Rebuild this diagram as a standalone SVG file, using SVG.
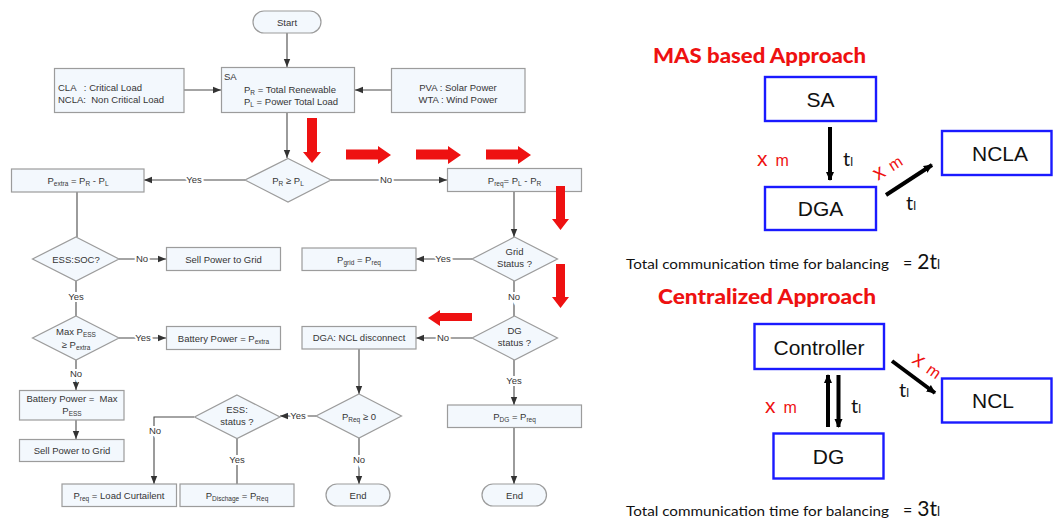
<svg xmlns="http://www.w3.org/2000/svg" width="1053" height="525" viewBox="0 0 1053 525">
  <style>
    .nd { fill: #f3f8fd; stroke: #9c9c9c; stroke-width: 1.2; }
    .t { font-family: "Liberation Sans", Arial, sans-serif; font-size: 9.5px; fill: #353535; }
    .c { text-anchor: middle; }
    .sub { font-size: 6.5px; }
    .pre { white-space: pre; }
    .ln { fill: none; stroke: #4a4a4a; stroke-width: 1.1; }
    .lbl { font-family: "Liberation Sans", Arial, sans-serif; font-size: 9.5px; fill: #353535; text-anchor: middle; paint-order: stroke; stroke: #ffffff; stroke-width: 4px; }
    .red { fill: #ee1111; }
    .ag { fill: #ffffff; stroke: #1a1aff; stroke-width: 2.4; }
    .at { font-family: "Liberation Sans", Arial, sans-serif; font-size: 21px; fill: #111111; text-anchor: middle; }
    .ttl { font-family: Lato, "Open Sans", sans-serif; font-weight: 900; font-size: 20px; fill: #ee1111; }
    .tot { font-family: Lato, "Open Sans", sans-serif; font-size: 14px; fill: #111111; }
    .xm { font-family: "Liberation Sans", Arial, sans-serif; fill: #ee1111; }
    .tl { font-family: Lato, "Open Sans", sans-serif; font-size: 20px; fill: #111111; }
    .thick { fill: none; stroke: #000000; stroke-width: 4; }
  </style>
  <defs>
    <marker id="ah" viewBox="0 0 8 8" refX="8" refY="4" markerWidth="8" markerHeight="8" markerUnits="userSpaceOnUse" orient="auto">
      <path d="M0,0.8 L8,4 L0,7.2 Z" fill="#333333"/>
    </marker>
    <marker id="bh" viewBox="0 0 10 10" refX="9" refY="5" markerWidth="9" markerHeight="9" markerUnits="userSpaceOnUse" orient="auto">
      <path d="M0,0.5 L10,5 L0,9.5 Z" fill="#000000"/>
    </marker>
  </defs>

  <rect x="0" y="0" width="1053" height="525" fill="#ffffff"/>

  <!-- flowchart connectors -->
  <g id="connectors">
    <path class="ln" d="M287,33 V67" marker-end="url(#ah)"/>
    <path class="ln" d="M184,90 H221" marker-end="url(#ah)"/>
    <path class="ln" d="M391,90 H355" marker-end="url(#ah)"/>
    <path class="ln" d="M287,113 V158" marker-end="url(#ah)"/>
    <path class="ln" d="M245,180 H144" marker-end="url(#ah)"/>
    <path class="ln" d="M331,180 H447" marker-end="url(#ah)"/>
    <path class="ln" d="M77,192 V237"/>
    <path class="ln" d="M119,259 H166" marker-end="url(#ah)"/>
    <path class="ln" d="M76,281 V316"/>
    <path class="ln" d="M119,338 H166" marker-end="url(#ah)"/>
    <path class="ln" d="M76,360 V390" marker-end="url(#ah)"/>
    <path class="ln" d="M76,420 V439" marker-end="url(#ah)"/>
    <path class="ln" d="M514,192 V237" marker-end="url(#ah)"/>
    <path class="ln" d="M472,259 H416" marker-end="url(#ah)"/>
    <path class="ln" d="M514,281 V316"/>
    <path class="ln" d="M472,338 H416" marker-end="url(#ah)"/>
    <path class="ln" d="M514,360 V405" marker-end="url(#ah)"/>
    <path class="ln" d="M514,427 V484" marker-end="url(#ah)"/>
    <path class="ln" d="M359,349 V394" marker-end="url(#ah)"/>
    <path class="ln" d="M316,416 H280" marker-end="url(#ah)"/>
    <path class="ln" d="M359,438 V484" marker-end="url(#ah)"/>
    <path class="ln" d="M194,417 H154 V484" marker-end="url(#ah)"/>
    <path class="ln" d="M237,438 V484"/>

    <text class="lbl" x="194" y="183">Yes</text>
    <text class="lbl" x="386" y="183">No</text>
    <text class="lbl" x="142" y="262">No</text>
    <text class="lbl" x="76" y="300">Yes</text>
    <text class="lbl" x="143" y="341">Yes</text>
    <text class="lbl" x="76" y="377">No</text>
    <text class="lbl" x="443" y="262">Yes</text>
    <text class="lbl" x="514" y="300">No</text>
    <text class="lbl" x="443" y="341">No</text>
    <text class="lbl" x="514" y="384">Yes</text>
    <text class="lbl" x="298" y="419">Yes</text>
    <text class="lbl" x="359" y="463">No</text>
    <text class="lbl" x="155" y="434">No</text>
    <text class="lbl" x="237" y="463">Yes</text>
  </g>

  <!-- flowchart nodes -->
  <g id="start">
    <rect class="nd" x="253" y="11" width="68" height="22" rx="11"/>
    <text class="t c" x="287" y="25.5">Start</text>
  </g>
  <g id="sa">
    <rect class="nd" x="221.5" y="67.5" width="133" height="45"/>
    <text class="t" x="224" y="80">SA</text>
    <text class="t" x="244" y="93">P<tspan class="sub" dy="2">R</tspan><tspan dy="-2"> = Total Renewable</tspan></text>
    <text class="t" x="244" y="105">P<tspan class="sub" dy="2">L</tspan><tspan dy="-2"> = Power Total Load</tspan></text>
  </g>
  <g id="cla">
    <rect class="nd" x="54.5" y="68.5" width="129.5" height="44"/>
    <text class="t pre" x="58" y="91">CLA   : Critical Load</text>
    <text class="t pre" x="58" y="103">NCLA:  Non Critical Load</text>
  </g>
  <g id="pva">
    <rect class="nd" x="391.5" y="68.5" width="133.5" height="44"/>
    <text class="t c" x="458" y="91">PVA : Solar Power</text>
    <text class="t c" x="458" y="103">WTA : Wind Power</text>
  </g>
  <g id="balance">
    <polygon class="nd" points="288,158.5 331,180 288,202 245,180"/>
    <text class="t c" x="288" y="183.5">P<tspan class="sub" dy="2">R</tspan><tspan dy="-2"> ≥ P</tspan><tspan class="sub" dy="2">L</tspan></text>
  </g>
  <g id="pextra">
    <rect class="nd" x="11.5" y="169" width="132.5" height="23"/>
    <text class="t c" x="78" y="184">P<tspan class="sub" dy="2">extra</tspan><tspan dy="-2"> = P</tspan><tspan class="sub" dy="2">R</tspan><tspan dy="-2"> - P</tspan><tspan class="sub" dy="2">L</tspan></text>
  </g>
  <g id="preq">
    <rect class="nd" x="447.5" y="168.5" width="134" height="23"/>
    <text class="t c" x="514.5" y="183.5">P<tspan class="sub" dy="2">req</tspan><tspan dy="-2">= P</tspan><tspan class="sub" dy="2">L</tspan><tspan dy="-2"> - P</tspan><tspan class="sub" dy="2">R</tspan></text>
  </g>
  <g id="ess-soc">
    <polygon class="nd" points="76,237 119,259 76,281 32.5,259"/>
    <text class="t c" x="76" y="262.5">ESS:SOC?</text>
  </g>
  <g id="sell1">
    <rect class="nd" x="166.5" y="247.5" width="114" height="23"/>
    <text class="t c" x="223.5" y="262.5">Sell Power to Grid</text>
  </g>
  <g id="max-ess">
    <polygon class="nd" points="76,316 119,338 76,360 32.5,338"/>
    <text class="t c" x="76" y="335">Max P<tspan class="sub" dy="2">ESS</tspan></text>
    <text class="t c" x="76" y="348">≥ P<tspan class="sub" dy="2">extra</tspan></text>
  </g>
  <g id="battery-extra">
    <rect class="nd" x="166.5" y="326.5" width="114" height="23"/>
    <text class="t c" x="223.5" y="341.5">Battery Power = P<tspan class="sub" dy="2">extra</tspan></text>
  </g>
  <g id="battery-max">
    <rect class="nd" x="19.5" y="390.5" width="104.5" height="29.5"/>
    <text class="t c pre" x="72" y="401.5">Battery Power =  Max</text>
    <text class="t c" x="72" y="414">P<tspan class="sub" dy="2">ESS</tspan></text>
  </g>
  <g id="sell2">
    <rect class="nd" x="19.5" y="439.5" width="104.5" height="22"/>
    <text class="t c" x="72" y="454">Sell Power to Grid</text>
  </g>
  <g id="grid-status">
    <polygon class="nd" points="514.5,237 557.5,259 514.5,281 472,259"/>
    <text class="t c" x="514.5" y="255">Grid</text>
    <text class="t c" x="514.5" y="267">Status ?</text>
  </g>
  <g id="pgrid">
    <rect class="nd" x="302" y="248" width="114" height="22.5"/>
    <text class="t c" x="359" y="262.5">P<tspan class="sub" dy="2">grid</tspan><tspan dy="-2"> = P</tspan><tspan class="sub" dy="2">req</tspan></text>
  </g>
  <g id="dg-status">
    <polygon class="nd" points="514.5,316 557.5,338 514.5,360 472,338"/>
    <text class="t c" x="514.5" y="334">DG</text>
    <text class="t c" x="514.5" y="346">status ?</text>
  </g>
  <g id="dga-disconnect">
    <rect class="nd" x="302" y="326.5" width="114" height="22.5"/>
    <text class="t c" x="359" y="341">DGA: NCL disconnect</text>
  </g>
  <g id="pdg">
    <rect class="nd" x="447.5" y="405" width="134" height="22.5"/>
    <text class="t c" x="514.5" y="419.5">P<tspan class="sub" dy="2">DG</tspan><tspan dy="-2"> = P</tspan><tspan class="sub" dy="2">req</tspan></text>
  </g>
  <g id="end-dg">
    <rect class="nd" x="482" y="484" width="64.5" height="22" rx="11"/>
    <text class="t c" x="514.5" y="498.5">End</text>
  </g>
  <g id="preq-check">
    <polygon class="nd" points="359,394 401.5,416 359,438 316,416"/>
    <text class="t c" x="359" y="419.5">P<tspan class="sub" dy="2">Req</tspan><tspan dy="-2"> ≥ 0</tspan></text>
  </g>
  <g id="end-mid">
    <rect class="nd" x="326" y="484" width="64" height="22" rx="11"/>
    <text class="t c" x="358" y="498.5">End</text>
  </g>
  <g id="ess-status">
    <polygon class="nd" points="237,395 280,417 237,438.5 194.5,417"/>
    <text class="t c" x="237" y="413">ESS:</text>
    <text class="t c" x="237" y="425">status ?</text>
  </g>
  <g id="curtail">
    <rect class="nd" x="62" y="484" width="114.5" height="22.5"/>
    <text class="t c" x="119" y="498.5">P<tspan class="sub" dy="2">req</tspan><tspan dy="-2"> = Load Curtailent</tspan></text>
  </g>
  <g id="discharge">
    <rect class="nd" x="180" y="484" width="114" height="22.5"/>
    <text class="t c" x="237" y="498.5">P<tspan class="sub" dy="2">Dischage</tspan><tspan dy="-2"> = P</tspan><tspan class="sub" dy="2">Req</tspan></text>
  </g>

  <!-- red flow markers -->
  <g id="flow-arrows">
    <polygon class="red" points="307,118 317,118 317,152 321,152 312,163 303,152 307,152"/>
    <polygon class="red" points="346,149.5 378,149.5 378,146 391,155 378,164 378,159.5 346,159.5"/>
    <polygon class="red" points="416,149.5 448,149.5 448,146 461,155 448,164 448,159.5 416,159.5"/>
    <polygon class="red" points="486,149.5 518,149.5 518,146 531,155 518,164 518,159.5 486,159.5"/>
    <polygon class="red" points="556,186 565,186 565,219 569,219 560.5,230 552,219 556,219"/>
    <polygon class="red" points="556,264 565,264 565,297 569,297 560.5,308 552,297 556,297"/>
    <polygon class="red" points="472,313 440,313 440,310 428,318 440,326 440,321 472,321"/>
  </g>

  <!-- MAS based approach -->
  <text class="ttl" x="653" y="63" textLength="213" lengthAdjust="spacingAndGlyphs">MAS based Approach</text>
  <g id="mas-sa">
    <rect class="ag" x="765" y="77" width="111" height="44"/>
    <text class="at" x="820.5" y="107">SA</text>
  </g>
  <g id="mas-dga">
    <rect class="ag" x="765" y="187" width="111" height="43"/>
    <text class="at" x="820.5" y="215.5">DGA</text>
  </g>
  <g id="mas-ncla">
    <rect class="ag" x="942" y="131" width="109.5" height="44"/>
    <text class="at" x="1000" y="161">NCLA</text>
  </g>
  <g id="mas-links">
    <path class="thick" d="M830,127 V180" marker-end="url(#bh)"/>
    <path class="thick" d="M886,195 L932,165" marker-end="url(#bh)"/>
    <text class="xm" x="757" y="166"><tspan font-size="21px">x</tspan><tspan font-size="16px" dx="8">m</tspan></text>
    <text class="tl" x="843" y="166">t<tspan font-size="12px">l</tspan></text>
    <text class="xm" x="878" y="181" transform="rotate(-33 878 181)"><tspan font-size="21px">x</tspan><tspan font-size="16px" dx="7">m</tspan></text>
    <text class="tl" x="906" y="210">t<tspan font-size="12px">l</tspan></text>
  </g>
  <text class="tot" x="626" y="269" textLength="263" lengthAdjust="spacingAndGlyphs">Total communication time for balancing</text>
  <text class="tot" x="903" y="269"><tspan font-size="16px">=</tspan><tspan font-size="21px" dx="5">2t</tspan><tspan font-size="13px">l</tspan></text>

  <!-- Centralized approach -->
  <text class="ttl" x="658" y="304" textLength="218" lengthAdjust="spacingAndGlyphs">Centralized Approach</text>
  <g id="cen-controller">
    <rect class="ag" x="754.5" y="324" width="129.5" height="45"/>
    <text class="at" x="819" y="355">Controller</text>
  </g>
  <g id="cen-dg">
    <rect class="ag" x="773.5" y="433.5" width="110" height="45"/>
    <text class="at" x="828.5" y="463.5">DG</text>
  </g>
  <g id="cen-ncl">
    <rect class="ag" x="942" y="378.5" width="109.5" height="44"/>
    <text class="at" x="993" y="407.5">NCL</text>
  </g>
  <g id="cen-links">
    <path class="thick" d="M828,427 V375" marker-end="url(#bh)"/>
    <path class="thick" d="M838.5,375 V427" marker-end="url(#bh)"/>
    <path class="thick" d="M892,361 L935,393" marker-end="url(#bh)"/>
    <text class="xm" x="765" y="413"><tspan font-size="21px">x</tspan><tspan font-size="16px" dx="8">m</tspan></text>
    <text class="tl" x="851" y="413">t<tspan font-size="12px">l</tspan></text>
    <text class="xm" x="911" y="362" transform="rotate(35 911 362)"><tspan font-size="21px">x</tspan><tspan font-size="16px" dx="7">m</tspan></text>
    <text class="tl" x="899" y="397">t<tspan font-size="12px">l</tspan></text>
  </g>
  <text class="tot" x="626" y="516" textLength="263" lengthAdjust="spacingAndGlyphs">Total communication time for balancing</text>
  <text class="tot" x="903" y="516"><tspan font-size="16px">=</tspan><tspan font-size="21px" dx="5">3t</tspan><tspan font-size="13px">l</tspan></text>
</svg>
